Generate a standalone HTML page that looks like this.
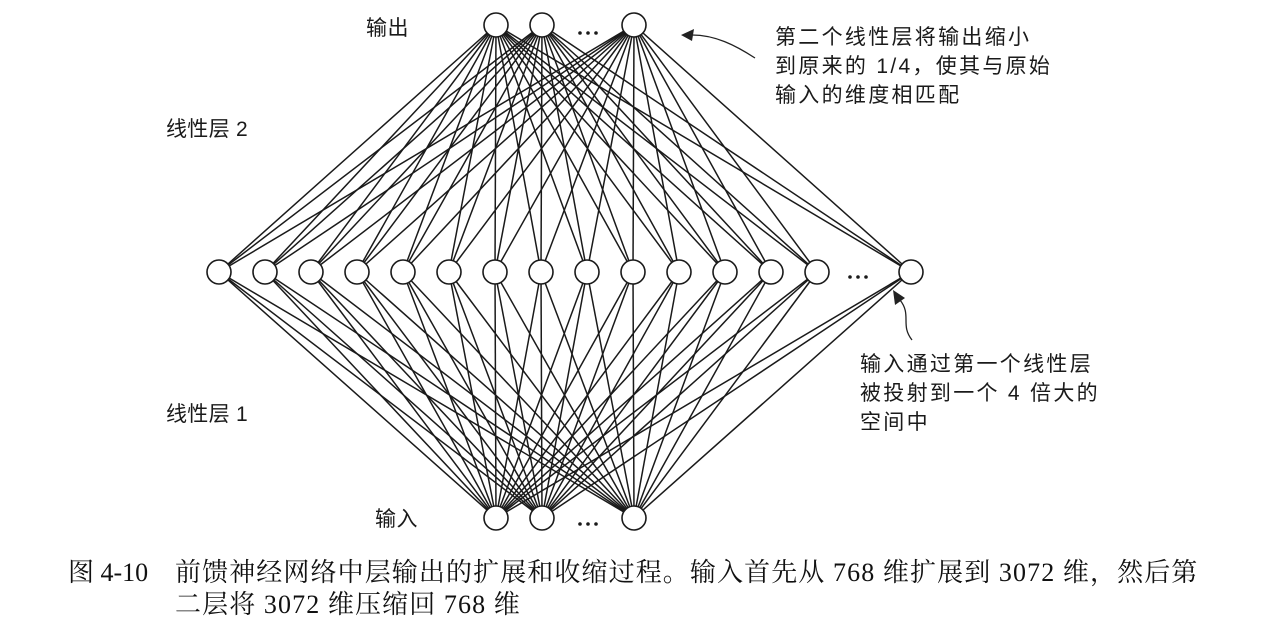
<!DOCTYPE html>
<html><head><meta charset="utf-8"><style>
body{margin:0;background:#fff;width:1261px;height:634px;overflow:hidden;position:relative}
.t{position:absolute;font-family:"Liberation Sans","Noto Sans CJK SC",sans-serif;color:#1a1a1a;font-size:21px;line-height:29px;white-space:nowrap;letter-spacing:2.3px}
.c{position:absolute;font-family:"Liberation Serif","Noto Serif CJK SC",serif;color:#111;font-size:26px;line-height:32px;white-space:nowrap}
</style></head><body>
<svg id="s" width="1261" height="634" style="position:absolute;left:0;top:0">
<g id="lines" stroke="#1a1a1a" stroke-width="1.5"></g>
<g id="nodes" fill="#fff" stroke="#1a1a1a" stroke-width="1.6"></g>
<g fill="#1a1a1a">
<circle cx="580" cy="33" r="1.8"/><circle cx="588" cy="33" r="1.8"/><circle cx="596" cy="33" r="1.8"/>
<circle cx="580" cy="524" r="1.8"/><circle cx="588" cy="524" r="1.8"/><circle cx="596" cy="524" r="1.8"/>
<circle cx="850" cy="277" r="1.8"/><circle cx="858" cy="277" r="1.8"/><circle cx="866" cy="277" r="1.8"/>
</g>
<path d="M755 58 C735 45 715 35 692 35" fill="none" stroke="#222" stroke-width="1.3"/>
<polygon points="681,35 694,29 692,41" fill="#222"/>
<path d="M912 340 C900 325 912 315 900 300" fill="none" stroke="#222" stroke-width="1.3"/>
<polygon points="893,290 905,298 895,305" fill="#222"/>
</svg>
<div class="t" style="left:366px;top:14px;letter-spacing:0.5px">输出</div>
<div class="t" style="left:166px;top:115px;letter-spacing:0.3px">线性层 2</div>
<div class="t" style="left:166px;top:400px;letter-spacing:0.3px">线性层 1</div>
<div class="t" style="left:375px;top:505px;letter-spacing:0.5px">输入</div>
<div class="t" style="left:775px;top:23px">第二个线性层将输出缩小<br>到原来的 1/4，使其与原始<br>输入的维度相匹配</div>
<div class="t" style="left:860px;top:350px">输入通过第一个线性层<br>被投射到一个 4 倍大的<br>空间中</div>
<div class="c" style="left:68px;top:557px">图 4-10</div>
<div class="c" style="left:175px;top:557px;letter-spacing:1.1px">前馈神经网络中层输出的扩展和收缩过程。输入首先从 768 维扩展到 3072 维，然后第<br>二层将 3072 维压缩回 768 维</div>
<script>
var L=document.getElementById('lines'),N=document.getElementById('nodes'),ns='http://www.w3.org/2000/svg';
var top3=[496,542,634],mid=[219,265,311,357,403,449,495,541,587,633,679,725,771,817,911];
function ln(a,b,c,d){var e=document.createElementNS(ns,'line');e.setAttribute('x1',a);e.setAttribute('y1',b);e.setAttribute('x2',c);e.setAttribute('y2',d);L.appendChild(e);}
function ci(x,y){var e=document.createElementNS(ns,'circle');e.setAttribute('cx',x);e.setAttribute('cy',y);e.setAttribute('r',12);N.appendChild(e);}
top3.forEach(function(t){mid.forEach(function(m){ln(t,25,m,272);ln(t,518,m,272);});ci(t,25);ci(t,518);});
mid.forEach(function(m){ci(m,272);});
</script>
</body></html>
